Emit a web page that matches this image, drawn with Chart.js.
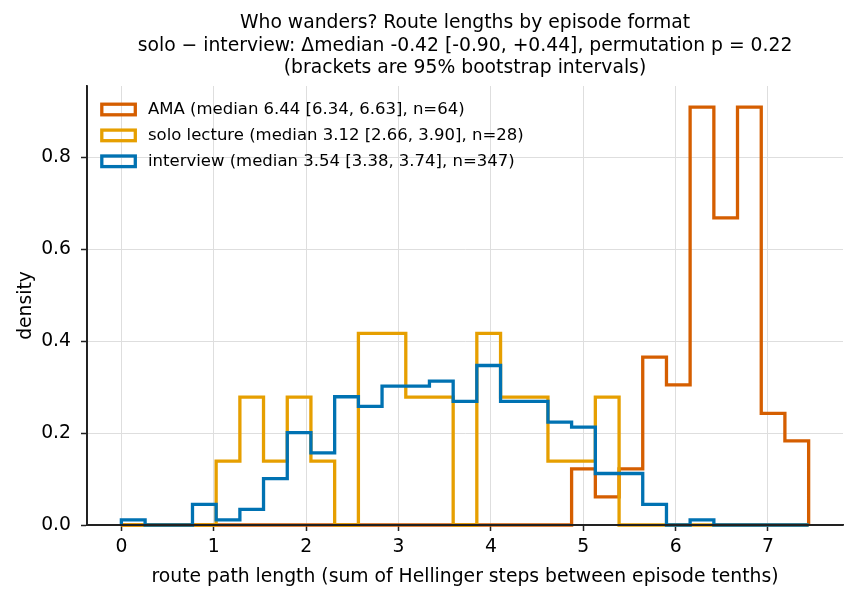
<!DOCTYPE html>
<html>
<head>
<meta charset="utf-8">
<script src="https://cdn.jsdelivr.net/npm/chart.js@4.4.1/dist/chart.umd.min.js"></script>
<style>
  html, body { margin: 0; padding: 0; background: #fff; }
  #wrap { width: 857px; height: 601px; position: relative; }
</style>
</head>
<body>
<div id="wrap"><canvas id="hist"></canvas></div>
<script>
// bin edges of the step histogram (route path length)
const binEdges = [0, 0.257, 0.513, 0.770, 1.026, 1.283, 1.539, 1.796, 2.052, 2.309,
  2.566, 2.822, 3.079, 3.335, 3.592, 3.848, 4.105, 4.361, 4.618, 4.874,
  5.131, 5.388, 5.644, 5.901, 6.157, 6.414, 6.670, 6.927, 7.183, 7.440];

// density per bin
const amaDensity = [0, 0, 0, 0, 0, 0, 0, 0, 0, 0, 0, 0, 0, 0, 0, 0, 0, 0, 0,
  0.122, 0.061, 0.122, 0.365, 0.305, 0.909, 0.668, 0.909, 0.243, 0.183];
const soloDensity = [0, 0, 0, 0, 0.139, 0.278, 0.139, 0.278, 0.139, 0, 0.417, 0.417, 0.278, 0.278, 0,
  0.417, 0.278, 0.278, 0.139, 0.139, 0.278, 0, 0, 0, 0, 0, 0, 0, 0];
const interviewDensity = [0.011, 0, 0, 0.045, 0.011, 0.034, 0.101, 0.201, 0.157, 0.279, 0.258, 0.302, 0.302,
  0.313, 0.269, 0.347, 0.269, 0.269, 0.224, 0.213, 0.112, 0.112, 0.045, 0, 0.011, 0, 0, 0, 0];

const seriesLabels = [
  'AMA (median 6.44 [6.34, 6.63], n=64)',
  'solo lecture (median 3.12 [2.66, 3.90], n=28)',
  'interview (median 3.54 [3.38, 3.74], n=347)'
];
const seriesColors = ['#D55E00', '#E69F00', '#0072B2'];

const titleLines = [
  'Who wanders? Route lengths by episode format',
  'solo \u2212 interview: \u0394median -0.42 [-0.90, +0.44], permutation p = 0.22',
  '(brackets are 95% bootstrap intervals)'
];
const xTitle = 'route path length (sum of Hellinger steps between episode tenths)';
const yTitle = 'density';

const FONT = 'DejaVu Sans';
const FS = 18.75;

// outline of a step histogram: up from the first edge, across each bin, down at the last edge
function stepPoints(dens) {
  const pts = [{x: binEdges[0], y: 0}];
  dens.forEach((d, i) => pts.push({x: binEdges[i], y: d}));
  pts.push({x: binEdges[binEdges.length - 1], y: dens[dens.length - 1]});
  pts.push({x: binEdges[binEdges.length - 1], y: 0});
  return pts;
}

const allDensity = [amaDensity, soloDensity, interviewDensity];

const titlePlugin = {
  id: 'plotTitle',
  afterDraw(chart) {
    const {ctx, chartArea} = chart;
    const cx = (chartArea.left + chartArea.right) / 2;
    ctx.save();
    ctx.fillStyle = '#000';
    ctx.font = FS + 'px "' + FONT + '"';
    ctx.textAlign = 'center';
    ctx.textBaseline = 'middle';
    titleLines.forEach((t, i) => ctx.fillText(t, cx, 23.5 + i * 22.2));
    ctx.restore();
  }
};

const legendPlugin = {
  id: 'insideLegend',
  afterDraw(chart) {
    const {ctx, chartArea} = chart;
    ctx.save();
    ctx.font = '16.5px "' + FONT + '"';
    ctx.textBaseline = 'middle';
    ctx.textAlign = 'left';
    seriesLabels.forEach((lab, i) => {
      const cy = chartArea.top + 23.5 + i * 25.9;
      ctx.strokeStyle = seriesColors[i];
      ctx.lineWidth = 3.3;
      ctx.strokeRect(chartArea.left + 14.8, cy - 5.3, 33.5, 10.6);
      ctx.fillStyle = '#000';
      ctx.fillText(lab, chartArea.left + 61, cy);
    });
    ctx.restore();
  }
};

// spines go over the histogram lines, like the reference
const spinePlugin = {
  id: 'spines',
  afterDatasetsDraw(chart) {
    const {ctx, chartArea} = chart;
    ctx.save();
    ctx.strokeStyle = '#222';
    ctx.lineWidth = 1.8;
    ctx.beginPath();
    ctx.moveTo(chartArea.left, chartArea.top);
    ctx.lineTo(chartArea.left, chartArea.bottom);
    ctx.lineTo(chartArea.right, chartArea.bottom);
    ctx.stroke();
    ctx.restore();
  }
};

const ctx = document.getElementById('hist');

new Chart(ctx, {
  type: 'line',
  data: {
    datasets: seriesLabels.map((lab, i) => ({
      label: lab,
      data: stepPoints(allDensity[i]),
      borderColor: seriesColors[i],
      backgroundColor: 'rgba(0,0,0,0)',
      borderWidth: 3.3,
      stepped: 'before',
      pointRadius: 0,
      fill: false,
      clip: 4,
      order: 3 - i
    }))
  },
  options: {
    responsive: true,
    maintainAspectRatio: false,
    animation: false,
    layout: { padding: { top: 86, right: 14, left: 0, bottom: 0 } },
    plugins: {
      legend: { display: false },
      title: { display: false },
      tooltip: { enabled: false }
    },
    scales: {
      x: {
        type: 'linear',
        min: -0.372,
        max: 7.812,
        afterFit: s => { s.height = 76; },
        ticks: {
          stepSize: 1,
          includeBounds: false,
          padding: 5,
          color: '#000',
          font: { family: FONT, size: FS },
          callback: v => String(v)
        },
        grid: { color: '#dedede', lineWidth: 1, tickLength: 6, tickColor: '#222', tickWidth: 1.5, drawTicks: true },
        border: { color: '#222', width: 1.8 },
        title: {
          display: true,
          text: xTitle,
          color: '#000',
          font: { family: FONT, size: FS },
          padding: { top: 0, bottom: 13 }
        }
      },
      y: {
        type: 'linear',
        min: 0,
        max: 0.955,
        afterFit: s => { s.width = 87; },
        ticks: {
          stepSize: 0.2,
          includeBounds: false,
          padding: 10,
          color: '#000',
          font: { family: FONT, size: FS },
          callback: v => v.toFixed(1)
        },
        grid: { color: '#dedede', lineWidth: 1, tickLength: 6, tickColor: '#222', tickWidth: 1.5, drawTicks: true },
        border: { color: '#222', width: 1.8 },
        title: {
          display: true,
          text: yTitle,
          color: '#000',
          font: { family: FONT, size: FS },
          padding: { top: 15, bottom: 0 }
        }
      }
    }
  },
  plugins: [titlePlugin, legendPlugin, spinePlugin]
});
</script>
</body>
</html>
